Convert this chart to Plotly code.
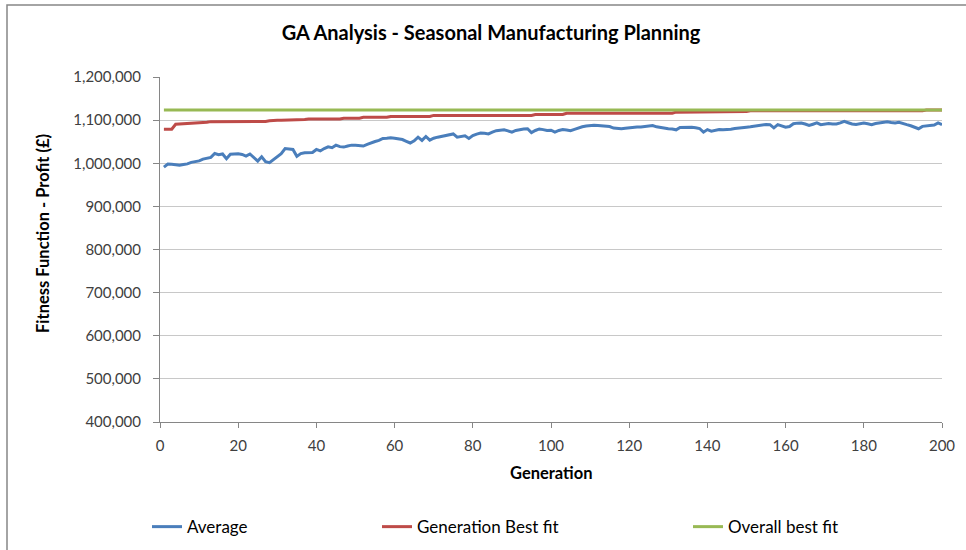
import plotly.graph_objects as go

# Generation index 1..200
generations = list(range(1, 201))

# Average fitness of the population per generation (profit in £)
average_fit = [
    991000, 998000, 997500, 996500, 995500, 997000, 998500, 1002000, 1003500, 1005500,
    1009500, 1012000, 1013500, 1022500, 1020000, 1021500, 1010500, 1021000, 1022000, 1022000,
    1020500, 1016500, 1021500, 1012500, 1005000, 1015000, 1003500, 1001500, 1008000, 1016000,
    1022000, 1034000, 1033500, 1032000, 1016000, 1022500, 1024500, 1025500, 1025000, 1032000,
    1028500, 1034000, 1038000, 1036000, 1042000, 1038500, 1037500, 1040000, 1042000, 1041500,
    1041000, 1040000, 1044000, 1048000, 1050500, 1053000, 1057500, 1058000, 1059000, 1058000,
    1057000, 1055000, 1051000, 1047000, 1052000, 1060500, 1053000, 1062000, 1053500, 1058000,
    1060500, 1062500, 1064500, 1066500, 1068000, 1060500, 1062000, 1063500, 1057500, 1064000,
    1067500, 1070000, 1069500, 1068000, 1072000, 1075500, 1076500, 1077500, 1075000, 1072000,
    1076000, 1078000, 1079500, 1080000, 1071000, 1076000, 1079500, 1078000, 1076000, 1076500,
    1072000, 1076000, 1078000, 1077000, 1075500, 1078500, 1082000, 1084500, 1086500, 1087500,
    1088000, 1087500, 1087000, 1086500, 1085000, 1081500, 1080500, 1080000, 1081000, 1082500,
    1083500, 1084000, 1084000, 1085500, 1086500, 1087500, 1084500, 1082500, 1080500, 1080000,
    1079500, 1077500, 1083000, 1083500, 1083500, 1083500, 1082500, 1080500, 1072000, 1078000,
    1074500, 1076500, 1078000, 1077500, 1077500, 1079000, 1080500, 1082000, 1083000, 1083500,
    1084500, 1086000, 1088000, 1089500, 1090000, 1089500, 1082000, 1089500, 1086000, 1083500,
    1085000, 1091500, 1093000, 1093500, 1091000, 1087500, 1090500, 1093500, 1089500, 1091500,
    1092000, 1091000, 1091000, 1093500, 1097000, 1094000, 1091000, 1090000, 1092000, 1093500,
    1091500, 1089500, 1092000, 1093500, 1095000, 1096000, 1094500, 1093500, 1095000, 1093000,
    1089500, 1087000, 1084000, 1080000, 1085500, 1086500, 1087000, 1088500, 1093500, 1089500,
]

# Best individual found in each generation
generation_best = (
    [1079000] * 3 + [1090500] + [1091000] * 2 + [1092500] * 2 + [1093500] * 2
    + [1095000] * 2 + [1096500] * 4 + [1097000] * 11 + [1098500]
    + [1100000] * 7 + [1101500] * 2 + [1102500] * 9 + [1104500] * 5
    + [1106500] * 7 + [1108500] * 11 + [1111000] * 26 + [1113000] * 8
    + [1116000] * 28 + [1118500] * 14 + [1120000] * 5 + [1121500] * 45
    + [1123500] * 5
)

# Best fitness over the whole run
overall_best = [1123500] * 200

y_ticks = [400000, 500000, 600000, 700000, 800000, 900000, 1000000, 1100000, 1200000]
x_ticks = [0, 20, 40, 60, 80, 100, 120, 140, 160, 180, 200]

FONT = "Lato"
TEXT = "#404040"

fig = go.Figure()
fig.add_trace(go.Scatter(x=generations, y=average_fit, mode="lines", name="Average",
                         line=dict(color="#4A7EBB", width=3), legend="legend"))
fig.add_trace(go.Scatter(x=generations, y=generation_best, mode="lines", name="Generation Best fit",
                         line=dict(color="#BE4B48", width=3), legend="legend2"))
fig.add_trace(go.Scatter(x=generations, y=overall_best, mode="lines", name="Overall best fit",
                         line=dict(color="#98B954", width=3), legend="legend3"))

legend_style = dict(orientation="h", xanchor="left", yanchor="middle", y=-0.3046,
                    font=dict(family=FONT, size=17, color="#000000"),
                    bgcolor="rgba(0,0,0,0)", borderwidth=0, visible=True)

fig.update_layout(
    width=966, height=550,
    showlegend=True,
    margin=dict(l=160, r=24, t=77, b=128, autoexpand=False),
    paper_bgcolor="white", plot_bgcolor="white",
    font=dict(family=FONT, size=15, color=TEXT),
    title=dict(text="<b>GA Analysis - Seasonal Manufacturing Planning</b>",
               x=491 / 966, xanchor="center", xref="container",
               y=1 - 33 / 550, yanchor="middle", yref="container",
               font=dict(family=FONT, size=20, color="#000000")),
    xaxis=dict(range=[0, 200], tickvals=x_ticks, showgrid=False, zeroline=False,
               showline=True, linecolor="#868686", linewidth=1,
               ticks="outside", ticklen=5, tickcolor="#868686", ticklabelstandoff=5,
               tickfont=dict(family=FONT, size=15, color=TEXT)),
    yaxis=dict(range=[400000, 1200000], tickvals=y_ticks, tickformat=",d",
               showgrid=True, gridcolor="#C8C8C8", gridwidth=1, zeroline=False,
               showline=True, linecolor="#868686", linewidth=1,
               ticks="outside", ticklen=6, tickcolor="#868686", ticklabelstandoff=9,
               tickfont=dict(family=FONT, size=15, color=TEXT)),
    legend=dict(legend_style, x=(147 - 160) / 782),
    legend2=dict(legend_style, x=(377 - 160) / 782),
    legend3=dict(legend_style, x=(688 - 160) / 782),
    annotations=[
        dict(text="<b>Fitness Function - Profit (£)</b>", textangle=-90,
             xref="paper", yref="paper", x=(43 - 160) / 782, y=(422 - 234) / 345,
             xanchor="center", yanchor="middle", showarrow=False,
             font=dict(family=FONT, size=16.5, color="#000000")),
        dict(text="<b>Generation</b>",
             xref="paper", yref="paper", x=(551 - 160) / 782, y=(422 - 473) / 345,
             xanchor="center", yanchor="middle", showarrow=False,
             font=dict(family=FONT, size=16.5, color="#000000")),
    ],
    shapes=[
        # outer chart frame
        dict(type="rect", xref="paper", yref="paper",
             x0=(7 - 160) / 782, x1=1.2, y0=-0.6, y1=(422 - 5) / 345,
             line=dict(color="#868686", width=1.5), fillcolor="rgba(0,0,0,0)", layer="below"),
    ],
)

fig.write_html("out.html")
